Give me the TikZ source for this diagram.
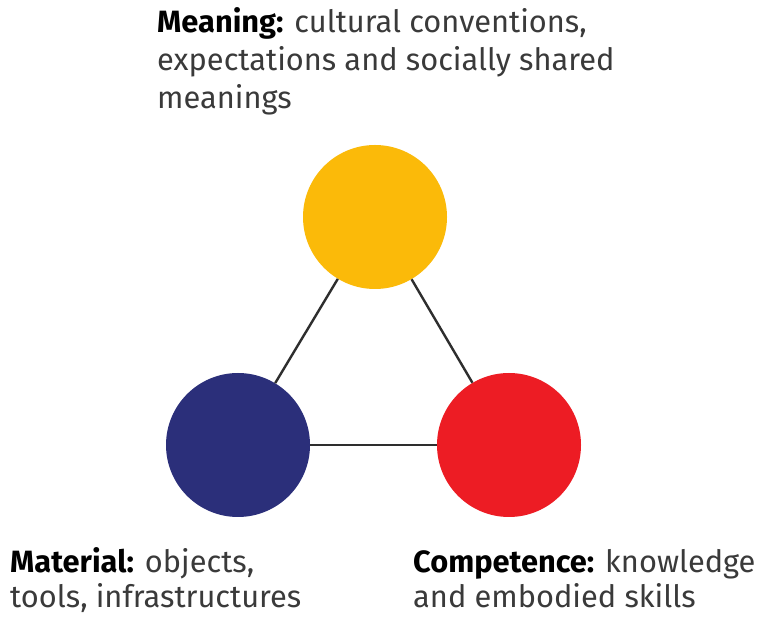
\documentclass[tikz,border=0pt]{standalone}
\usepackage{fontspec}
\setmainfont{Fira Sans}
\definecolor{cyellow}{HTML}{FBBA09}
\definecolor{cblue}{HTML}{2B2F7A}
\definecolor{cred}{HTML}{ED1C24}
\definecolor{ctext}{HTML}{3A3A3A}
\definecolor{cline}{HTML}{2E2E2E}
\tikzset{
  ball/.style={circle, minimum size=144pt, inner sep=0pt, draw=none},
  link/.style={draw=cline, line width=2.4pt},
  txt/.style={anchor=base west, inner sep=0pt, text=ctext, font=\fontsize{30.8}{34}\selectfont},
}
\begin{document}
\begin{tikzpicture}[x=1pt,y=1pt]
\useasboundingbox (0,0) rectangle (770,620);
\fill[white] (0,0) rectangle (770,620);
\node[ball, fill=cyellow] (mean) at (375,403) {};
\node[ball, fill=cblue] (mat) at (238,175) {};
\node[ball, fill=cred] (comp) at (509,175) {};
\draw[link] (mean) -- (mat);
\draw[link] (mean) -- (comp);
\draw[link] (mat) -- (comp);
\node[txt] (t1) at (157,587) {\textbf{\color{black}Meaning:} cultural conventions,};
\node[txt] (t2) at (157,549) {expectations and socially shared};
\node[txt] (t3) at (157,511) {meanings};
\node[txt] (l1) at (10,47) {\textbf{\color{black}Material:} objects,};
\node[txt] (l2) at (10,12) {tools, infrastructures};
\node[txt] (r1) at (413,47) {\textbf{\color{black}Competence:} knowledge};
\node[txt] (r2) at (413,12) {and embodied skills};
\end{tikzpicture}
\end{document}
